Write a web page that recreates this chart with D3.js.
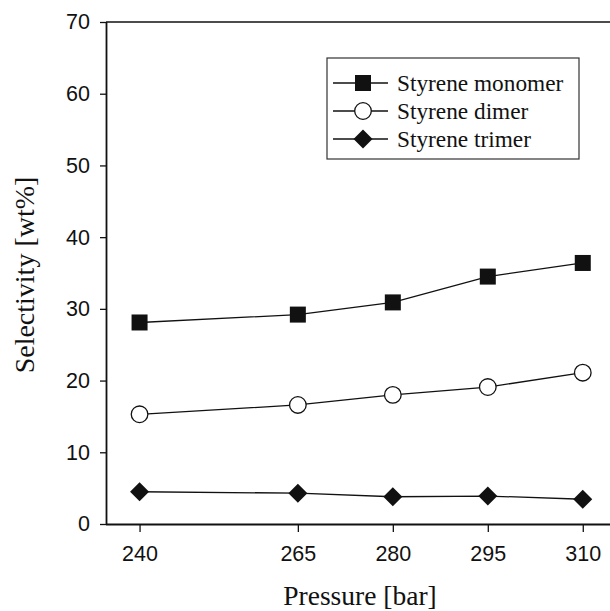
<!DOCTYPE html>
<html>
<head>
<meta charset="utf-8">
<script src="https://cdn.jsdelivr.net/npm/d3@7"></script>
<style>
  body { margin: 0; background: #fff; }
  svg { display: block; }
</style>
</head>
<body>
<svg id="chart" width="610" height="611"></svg>
<script>
// values
const pressures = [240, 265, 280, 295, 310];
const monomer = [28.1, 29.2, 30.9, 34.5, 36.4];
const dimer = [15.3, 16.6, 18.0, 19.1, 21.1];
const trimer = [4.5, 4.3, 3.8, 3.9, 3.45];
const yTicks = [0, 10, 20, 30, 40, 50, 60, 70];
const seriesNames = ["Styrene monomer", "Styrene dimer", "Styrene trimer"];
const seriesShapes = ["square", "circle", "diamond"];

drawChart("#chart");

function drawChart(selector) {
    const svg = d3.select(selector);
    const margin = { top: 22, right: 0, bottom: 87, left: 106 };
    const width = +svg.attr("width") - margin.left - margin.right;
    const height = +svg.attr("height") - margin.top - margin.bottom;

    const g = svg.append("g").attr("transform", "translate(" + margin.left + "," + margin.top + ")");

    const x = d3.scaleLinear().domain([234.7, 314.3]).range([0, width]);
    const y = d3.scaleLinear().domain([0, 70]).range([height, 0]);

    // frame: top line only (no right axis)
    g.append("line")
        .attr("x1", 0).attr("x2", width)
        .attr("y1", 0).attr("y2", 0)
        .attr("stroke", "#111").attr("stroke-width", 1.5);

    const yAxis = g.append("g")
        .call(d3.axisLeft(y).tickValues(yTicks).tickSize(6).tickPadding(10));
    const xAxis = g.append("g")
        .attr("transform", "translate(0," + height + ")")
        .call(d3.axisBottom(x).tickValues(pressures).tickSize(8).tickPadding(14));

    [xAxis, yAxis].forEach(ax => {
        ax.select(".domain").attr("stroke", "#111").attr("stroke-width", 1.8);
        ax.selectAll(".tick line").attr("stroke", "#111").attr("stroke-width", 1.3);
        ax.selectAll(".tick text")
            .attr("fill", "#111")
            .style("font-family", "'Liberation Sans', Arial, sans-serif")
            .style("font-size", "21.5px");
    });
    // domain lines without end caps, left one spans full height
    yAxis.select(".domain").attr("d", "M0.5," + height + "V0");
    xAxis.select(".domain").attr("d", "M0,0.5H" + width);

    const line = d3.line()
        .x(d => x(d.p))
        .y(d => y(d.v));

    const allSeries = [monomer, dimer, trimer].map((vals, i) => ({
        name: seriesNames[i],
        shape: seriesShapes[i],
        points: vals.map((v, j) => ({ p: pressures[j], v: v }))
    }));

    allSeries.forEach(s => {
        g.append("path")
            .datum(s.points)
            .attr("fill", "none")
            .attr("stroke", "#111")
            .attr("stroke-width", 1.3)
            .attr("d", line);

        g.selectAll(null)
            .data(s.points)
            .enter()
            .append("g")
            .attr("transform", d => "translate(" + x(d.p) + "," + y(d.v) + ")")
            .each(function () { drawMarker(d3.select(this), s.shape); });
    });

    // legend
    const legend = svg.append("g").attr("transform", "translate(327,58)");
    legend.append("rect")
        .attr("width", 252).attr("height", 101)
        .attr("fill", "#fff")
        .attr("stroke", "#333").attr("stroke-width", 1.2);

    allSeries.forEach((s, i) => {
        const row = legend.append("g").attr("transform", "translate(0," + (25 + i * 28) + ")");
        row.append("line")
            .attr("x1", 6).attr("x2", 61)
            .attr("stroke", "#111").attr("stroke-width", 1.3);
        drawMarker(row.append("g").attr("transform", "translate(36,0)"), s.shape);
        row.append("text")
            .attr("x", 70).attr("y", 8)
            .attr("fill", "#111")
            .style("font-family", "'Liberation Serif', 'Times New Roman', serif")
            .style("font-size", "23.3px")
            .text(s.name);
    });

    // axis titles
    svg.append("text")
        .attr("x", 360).attr("y", 605)
        .attr("text-anchor", "middle")
        .attr("fill", "#111")
        .style("font-family", "'Liberation Serif', 'Times New Roman', serif")
        .style("font-size", "27.5px")
        .text("Pressure [bar]");

    svg.append("text")
        .attr("transform", "translate(34,275) rotate(-90)")
        .attr("text-anchor", "middle")
        .attr("fill", "#111")
        .style("font-family", "'Liberation Serif', 'Times New Roman', serif")
        .style("font-size", "28px")
        .text("Selectivity [wt%]");
}

function drawMarker(sel, shape) {
    if (shape === "square") {
        sel.append("rect")
            .attr("x", -8).attr("y", -8)
            .attr("width", 16).attr("height", 16)
            .attr("fill", "#111");
    } else if (shape === "circle") {
        sel.append("circle")
            .attr("r", 8.3)
            .attr("fill", "#fff")
            .attr("stroke", "#111").attr("stroke-width", 1.3);
    } else {
        sel.append("path")
            .attr("d", "M0,-9.5L9.5,0L0,9.5L-9.5,0Z")
            .attr("fill", "#111");
    }
}
</script>
</body>
</html>
